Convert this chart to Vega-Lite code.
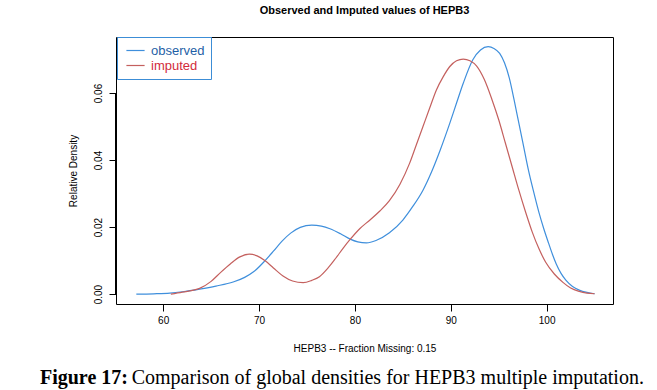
{
  "$schema": "https://vega.github.io/schema/vega-lite/v6.json",
  "autosize": {"type": "none"},
  "padding": {"left": 116, "top": 37, "right": 44, "bottom": 86},
  "width": 497,
  "height": 267,
  "background": "white",
  "title": {"text": "Observed and Imputed values of HEPB3", "font": "Liberation Sans", "fontSize": 11, "fontWeight": "bold", "anchor": "middle", "offset": 21, "color": "black"},
  "config": {
    "view": {"stroke": "black", "strokeWidth": 1},
    "axis": {"labelFont": "Liberation Sans", "titleFont": "Liberation Sans", "labelColor": "black", "titleColor": "black", "tickColor": "black", "grid": false, "domain": false, "titleFontWeight": "normal"}
  },
  "datasets": {
    "curves": [
      {"series": "observed", "x": 57.2, "density": 0.0},
      {"series": "observed", "x": 59.0, "density": 0.0001},
      {"series": "observed", "x": 60.7, "density": 0.0003},
      {"series": "observed", "x": 62.0, "density": 0.0007},
      {"series": "observed", "x": 63.8, "density": 0.0015},
      {"series": "observed", "x": 65.5, "density": 0.0024},
      {"series": "observed", "x": 67.3, "density": 0.0036},
      {"series": "observed", "x": 68.5, "density": 0.005},
      {"series": "observed", "x": 69.5, "density": 0.0068},
      {"series": "observed", "x": 70.6, "density": 0.0099},
      {"series": "observed", "x": 71.5, "density": 0.0128},
      {"series": "observed", "x": 72.4, "density": 0.0158},
      {"series": "observed", "x": 73.3, "density": 0.0182},
      {"series": "observed", "x": 74.3, "density": 0.0199},
      {"series": "observed", "x": 75.5, "density": 0.0206},
      {"series": "observed", "x": 76.5, "density": 0.0203},
      {"series": "observed", "x": 77.4, "density": 0.0195},
      {"series": "observed", "x": 78.5, "density": 0.018},
      {"series": "observed", "x": 79.5, "density": 0.0164},
      {"series": "observed", "x": 80.3, "density": 0.0156},
      {"series": "observed", "x": 81.2, "density": 0.0153},
      {"series": "observed", "x": 82.2, "density": 0.016},
      {"series": "observed", "x": 83.6, "density": 0.0183},
      {"series": "observed", "x": 85.0, "density": 0.0221},
      {"series": "observed", "x": 86.0, "density": 0.026},
      {"series": "observed", "x": 87.1, "density": 0.031},
      {"series": "observed", "x": 88.0, "density": 0.0365},
      {"series": "observed", "x": 88.9, "density": 0.043},
      {"series": "observed", "x": 89.9, "density": 0.051},
      {"series": "observed", "x": 90.6, "density": 0.057},
      {"series": "observed", "x": 91.3, "density": 0.0629},
      {"series": "observed", "x": 92.3, "density": 0.0699},
      {"series": "observed", "x": 93.1, "density": 0.0728},
      {"series": "observed", "x": 93.9, "density": 0.0738},
      {"series": "observed", "x": 94.5, "density": 0.0733},
      {"series": "observed", "x": 95.1, "density": 0.0718},
      {"series": "observed", "x": 95.6, "density": 0.069},
      {"series": "observed", "x": 96.1, "density": 0.0645},
      {"series": "observed", "x": 96.6, "density": 0.058},
      {"series": "observed", "x": 97.1, "density": 0.051},
      {"series": "observed", "x": 97.6, "density": 0.044},
      {"series": "observed", "x": 98.1, "density": 0.037},
      {"series": "observed", "x": 98.6, "density": 0.031},
      {"series": "observed", "x": 99.2, "density": 0.0243},
      {"series": "observed", "x": 99.7, "density": 0.0195},
      {"series": "observed", "x": 100.2, "density": 0.0152},
      {"series": "observed", "x": 100.6, "density": 0.0119},
      {"series": "observed", "x": 101.0, "density": 0.009},
      {"series": "observed", "x": 101.5, "density": 0.0062},
      {"series": "observed", "x": 102.0, "density": 0.0042},
      {"series": "observed", "x": 102.7, "density": 0.0023},
      {"series": "observed", "x": 103.4, "density": 0.0012},
      {"series": "observed", "x": 104.2, "density": 0.0005},
      {"series": "observed", "x": 105.0, "density": 0.0001},
      {"series": "imputed", "x": 60.8, "density": 0.0},
      {"series": "imputed", "x": 62.0, "density": 0.0006},
      {"series": "imputed", "x": 63.8, "density": 0.0017},
      {"series": "imputed", "x": 65.0, "density": 0.0038},
      {"series": "imputed", "x": 66.0, "density": 0.0065},
      {"series": "imputed", "x": 67.0, "density": 0.009},
      {"series": "imputed", "x": 68.0, "density": 0.0111},
      {"series": "imputed", "x": 69.0, "density": 0.0119},
      {"series": "imputed", "x": 69.8, "density": 0.0114},
      {"series": "imputed", "x": 70.6, "density": 0.01},
      {"series": "imputed", "x": 71.5, "density": 0.0078},
      {"series": "imputed", "x": 72.5, "density": 0.0054},
      {"series": "imputed", "x": 73.5, "density": 0.0039},
      {"series": "imputed", "x": 74.6, "density": 0.0034},
      {"series": "imputed", "x": 75.5, "density": 0.0041},
      {"series": "imputed", "x": 76.3, "density": 0.0052},
      {"series": "imputed", "x": 77.2, "density": 0.0078},
      {"series": "imputed", "x": 78.0, "density": 0.0107},
      {"series": "imputed", "x": 78.8, "density": 0.0138},
      {"series": "imputed", "x": 79.5, "density": 0.0163},
      {"series": "imputed", "x": 80.5, "density": 0.0195},
      {"series": "imputed", "x": 81.6, "density": 0.0222},
      {"series": "imputed", "x": 82.6, "density": 0.0248},
      {"series": "imputed", "x": 83.6, "density": 0.0279},
      {"series": "imputed", "x": 84.7, "density": 0.0328},
      {"series": "imputed", "x": 85.7, "density": 0.039},
      {"series": "imputed", "x": 86.4, "density": 0.0445},
      {"series": "imputed", "x": 87.1, "density": 0.05},
      {"series": "imputed", "x": 87.8, "density": 0.0555},
      {"series": "imputed", "x": 88.5, "density": 0.0609},
      {"series": "imputed", "x": 89.2, "density": 0.0648},
      {"series": "imputed", "x": 89.9, "density": 0.0679},
      {"series": "imputed", "x": 90.6, "density": 0.0696},
      {"series": "imputed", "x": 91.3, "density": 0.0701},
      {"series": "imputed", "x": 92.0, "density": 0.0696},
      {"series": "imputed", "x": 92.7, "density": 0.068},
      {"series": "imputed", "x": 93.5, "density": 0.064},
      {"series": "imputed", "x": 94.3, "density": 0.058},
      {"series": "imputed", "x": 95.0, "density": 0.052},
      {"series": "imputed", "x": 95.7, "density": 0.045},
      {"series": "imputed", "x": 96.4, "density": 0.038},
      {"series": "imputed", "x": 97.1, "density": 0.031},
      {"series": "imputed", "x": 97.8, "density": 0.0245},
      {"series": "imputed", "x": 98.5, "density": 0.0185},
      {"series": "imputed", "x": 99.2, "density": 0.0135},
      {"series": "imputed", "x": 99.9, "density": 0.0095},
      {"series": "imputed", "x": 100.8, "density": 0.006},
      {"series": "imputed", "x": 101.7, "density": 0.0035},
      {"series": "imputed", "x": 102.5, "density": 0.0018},
      {"series": "imputed", "x": 103.4, "density": 0.0008},
      {"series": "imputed", "x": 104.2, "density": 0.0003},
      {"series": "imputed", "x": 105.0, "density": 0.0001}
    ],
    "single": [{}]
  },
  "layer": [
    {
      "data": {"name": "curves"},
      "mark": {"type": "line", "interpolate": "monotone", "strokeWidth": 1.2},
      "encoding": {
        "x": {"field": "x", "type": "quantitative",
              "scale": {"domain": [55.08, 106.92], "nice": false, "zero": false},
              "axis": {"values": [60, 70, 80, 90, 100], "tickSize": 7, "labelFontSize": 10, "labelPadding": 4, "title": "HEPB3  --  Fraction Missing: 0.15", "titleFontSize": 10, "titlePadding": 18}},
        "y": {"field": "density", "type": "quantitative",
              "scale": {"domain": [-0.00295, 0.0767], "nice": false, "zero": false},
              "axis": {"values": [0, 0.02, 0.04, 0.06], "format": ".2f", "tickSize": 7, "labelFontSize": 10, "labelAngle": -90, "labelAlign": "center", "labelBaseline": "bottom", "labelPadding": 6, "title": "Relative Density", "titleFontSize": 10, "titlePadding": 15}},
        "color": {"field": "series", "type": "nominal",
                  "scale": {"domain": ["observed", "imputed"], "range": ["#3f8fdc", "#c4605e"]},
                  "legend": {"title": null, "orient": "none", "legendX": 1, "legendY": 0,
                             "strokeColor": "#3c8dd6", "fillColor": "white", "padding": 6,
                             "symbolType": "M-1.4,0H1.4", "symbolSize": 169, "symbolStrokeWidth": 1.2, "symbolOffset": 5,
                             "labelFont": "Liberation Sans", "labelFontSize": 13, "labelOffset": 8, "rowPadding": -3,
                             "encode": {"labels": {"update": {"fill": {"signal": "datum.value === 'observed' ? '#1f5fa6' : '#d22b3b'"}}}}}}
      }
    },
    {
      "data": {"name": "single"},
      "mark": {"type": "rule", "color": "black", "strokeWidth": 2},
      "encoding": {
        "x": {"datum": 55.08, "type": "quantitative"},
        "y": {"datum": 0, "type": "quantitative"},
        "y2": {"datum": 0.06}
      }
    },
    {
      "data": {"name": "single"},
      "mark": {"type": "text", "font": "Liberation Serif", "fontSize": 20, "fontWeight": "bold", "align": "left", "baseline": "alphabetic", "color": "black"},
      "encoding": {
        "x": {"datum": 47.15, "type": "quantitative"},
        "y": {"datum": -0.02681, "type": "quantitative"},
        "text": {"value": "Figure 17:"}
      }
    },
    {
      "data": {"name": "single"},
      "mark": {"type": "text", "font": "Liberation Serif", "fontSize": 20, "align": "left", "baseline": "alphabetic", "color": "black"},
      "encoding": {
        "x": {"datum": 56.72, "type": "quantitative"},
        "y": {"datum": -0.02681, "type": "quantitative"},
        "text": {"value": "Comparison of global densities for HEPB3 multiple imputation."}
      }
    }
  ]
}
